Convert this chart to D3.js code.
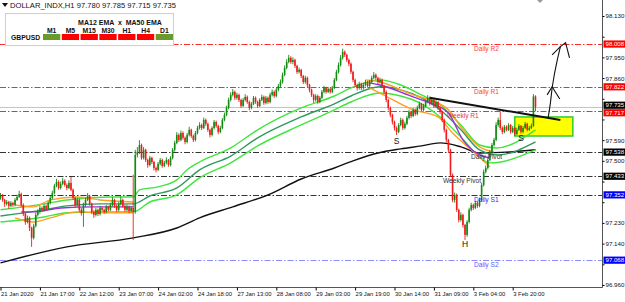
<!DOCTYPE html>
<html>
<head>
<meta charset="utf-8">
<script src="https://cdn.jsdelivr.net/npm/d3@7"></script>
<style>
  body { margin: 0; background: #fff; }
  svg { display: block; font-family: "Liberation Sans", Arial, sans-serif; }
</style>
</head>
<body>
<svg id="chart" width="625" height="302"></svg>
<script>
// ---- data ----
const firstOpen = 97.340;
const closes = [
  97.347,97.330,97.313,97.321,97.304,97.317,97.308,97.330,97.343,97.356,
  97.308,97.269,97.234,97.252,97.208,97.165,97.217,97.265,97.278,97.295,
  97.287,97.304,97.291,97.317,97.339,97.360,97.391,97.408,97.382,97.400,
  97.413,97.395,97.382,97.404,97.374,97.339,97.308,97.330,97.287,97.273,
  97.308,97.330,97.347,97.313,97.278,97.265,97.287,97.269,97.295,97.287,
  97.278,97.300,97.287,97.308,97.330,97.304,97.287,97.313,97.330,97.304,
  97.287,97.300,97.282,97.295,97.278,97.526,97.539,97.569,97.513,97.548,
  97.504,97.482,97.513,97.495,97.469,97.461,97.487,97.504,97.478,97.491,
  97.504,97.482,97.513,97.548,97.578,97.613,97.591,97.621,97.600,97.582,
  97.613,97.635,97.608,97.591,97.621,97.643,97.656,97.643,97.678,97.661,
  97.635,97.613,97.643,97.669,97.652,97.626,97.643,97.678,97.700,97.730,
  97.765,97.787,97.800,97.774,97.787,97.765,97.739,97.765,97.778,97.756,
  97.730,97.748,97.774,97.756,97.739,97.765,97.778,97.752,97.774,97.756,
  97.787,97.800,97.782,97.809,97.826,97.843,97.874,97.904,97.930,97.948,
  97.930,97.939,97.913,97.887,97.896,97.869,97.843,97.861,97.830,97.809,
  97.787,97.765,97.782,97.756,97.774,97.800,97.817,97.800,97.813,97.800,
  97.817,97.852,97.887,97.917,97.948,97.974,97.961,97.939,97.922,97.887,
  97.852,97.830,97.817,97.835,97.817,97.830,97.843,97.826,97.843,97.861,
  97.874,97.861,97.843,97.852,97.826,97.800,97.765,97.730,97.700,97.669,
  97.643,97.626,97.656,97.678,97.643,97.661,97.687,97.713,97.695,97.722,
  97.704,97.730,97.748,97.722,97.739,97.756,97.774,97.748,97.765,97.739,
  97.756,97.730,97.713,97.678,97.635,97.591,97.548,97.439,97.330,97.352,
  97.287,97.243,97.265,97.221,97.178,97.234,97.287,97.308,97.295,97.317,
  97.304,97.330,97.395,97.452,97.469,97.504,97.539,97.569,97.591,97.656,
  97.678,97.643,97.626,97.648,97.635,97.656,97.626,97.643,97.617,97.635,
  97.652,97.626,97.643,97.661,97.635,97.643,97.652,97.780,97.735
];
const highs = [
  97.360,97.356,97.335,97.330,97.326,97.325,97.322,97.338,97.352,97.370,
  97.362,97.315,97.276,97.262,97.258,97.214,97.226,97.274,97.290,97.306,
  97.302,97.312,97.310,97.325,97.347,97.370,97.400,97.422,97.415,97.410,
  97.426,97.420,97.402,97.415,97.430,97.380,97.345,97.340,97.336,97.295,
  97.318,97.340,97.360,97.352,97.318,97.285,97.295,97.292,97.304,97.300,
  97.292,97.308,97.305,97.318,97.342,97.335,97.310,97.322,97.345,97.336,
  97.310,97.310,97.306,97.304,97.440,97.548,97.560,97.590,97.575,97.560,
  97.553,97.510,97.522,97.518,97.500,97.475,97.495,97.512,97.510,97.500,
  97.515,97.508,97.520,97.556,97.588,97.625,97.620,97.632,97.628,97.606,
  97.622,97.648,97.640,97.614,97.630,97.652,97.668,97.662,97.688,97.684,
  97.666,97.640,97.650,97.678,97.675,97.657,97.652,97.686,97.710,97.740,
  97.775,97.798,97.812,97.806,97.796,97.792,97.770,97.774,97.790,97.784,
  97.762,97.756,97.782,97.780,97.762,97.772,97.788,97.784,97.782,97.780,
  97.796,97.810,97.806,97.818,97.835,97.854,97.884,97.915,97.942,97.961,
  97.955,97.950,97.944,97.918,97.905,97.900,97.874,97.870,97.866,97.835,
  97.814,97.792,97.790,97.788,97.782,97.808,97.826,97.822,97.822,97.818,
  97.826,97.860,97.896,97.928,97.960,97.988,97.980,97.966,97.945,97.928,
  97.892,97.858,97.836,97.844,97.840,97.840,97.852,97.848,97.852,97.870,
  97.886,97.880,97.866,97.862,97.858,97.830,97.806,97.770,97.736,97.705,
  97.675,97.650,97.664,97.688,97.684,97.670,97.696,97.722,97.718,97.730,
  97.728,97.740,97.758,97.752,97.748,97.766,97.786,97.780,97.774,97.770,
  97.764,97.760,97.736,97.718,97.684,97.640,97.596,97.552,97.445,97.362,
  97.358,97.292,97.276,97.270,97.226,97.242,97.296,97.318,97.314,97.326,
  97.322,97.340,97.404,97.462,97.480,97.512,97.548,97.578,97.600,97.668,
  97.688,97.713,97.650,97.656,97.654,97.664,97.660,97.652,97.648,97.644,
  97.660,97.656,97.652,97.670,97.666,97.652,97.662,97.790,97.785
];
const lows = [
  97.331,97.322,97.300,97.305,97.291,97.298,97.300,97.302,97.326,97.338,
  97.300,97.260,97.222,97.228,97.195,97.126,97.158,97.210,97.258,97.270,
  97.278,97.280,97.284,97.286,97.310,97.332,97.354,97.385,97.374,97.376,
  97.394,97.388,97.372,97.377,97.368,97.330,97.298,97.300,97.278,97.262,
  97.213,97.300,97.325,97.305,97.268,97.252,97.258,97.260,97.262,97.280,
  97.270,97.272,97.280,97.282,97.302,97.296,97.278,97.280,97.306,97.296,
  97.278,97.280,97.272,97.276,97.156,97.270,97.515,97.530,97.505,97.506,
  97.495,97.470,97.476,97.486,97.458,97.450,97.455,97.480,97.470,97.472,
  97.485,97.474,97.476,97.506,97.540,97.572,97.582,97.585,97.592,97.572,
  97.576,97.606,97.600,97.582,97.585,97.615,97.636,97.634,97.638,97.652,
  97.626,97.602,97.606,97.636,97.644,97.616,97.620,97.637,97.672,97.694,
  97.724,97.758,97.780,97.765,97.766,97.756,97.730,97.734,97.758,97.748,
  97.720,97.724,97.742,97.748,97.730,97.734,97.760,97.744,97.746,97.748,
  97.750,97.780,97.774,97.776,97.802,97.820,97.836,97.868,97.898,97.924,
  97.922,97.920,97.904,97.878,97.880,97.860,97.834,97.836,97.820,97.798,
  97.778,97.752,97.758,97.748,97.750,97.768,97.794,97.792,97.795,97.792,
  97.794,97.812,97.846,97.880,97.910,97.940,97.952,97.930,97.912,97.878,
  97.842,97.820,97.806,97.810,97.808,97.810,97.824,97.818,97.820,97.838,
  97.855,97.852,97.834,97.836,97.816,97.790,97.755,97.720,97.690,97.658,
  97.632,97.612,97.620,97.650,97.634,97.636,97.655,97.680,97.686,97.690,
  97.696,97.698,97.724,97.714,97.716,97.732,97.750,97.740,97.742,97.730,
  97.732,97.722,97.704,97.668,97.624,97.580,97.535,97.430,97.320,97.318,
  97.278,97.232,97.236,97.210,97.156,97.170,97.228,97.280,97.286,97.290,
  97.296,97.298,97.324,97.388,97.445,97.462,97.498,97.532,97.562,97.585,
  97.648,97.634,97.616,97.620,97.628,97.630,97.618,97.620,97.608,97.612,
  97.630,97.618,97.620,97.638,97.628,97.630,97.638,97.648,97.715
];

// moving averages as [bar index, price]
const ma200 = [[0,97.056],[32,97.126],[64,97.165],[85,97.208],[96,97.252],[112,97.300],
  [129,97.352],[145,97.421],[161,97.469],[170,97.500],[182,97.534],[193,97.552],
  [203,97.565],[212,97.578],[222,97.561],[231,97.534],[246,97.539],[258,97.548]];
const ma50Upper = [[0,97.287],[21,97.313],[32,97.330],[53,97.343],[64,97.343],[67,97.374],
  [76,97.387],[85,97.417],[90,97.461],[96,97.495],[111,97.556],[124,97.635],[145,97.730],
  [161,97.782],[169,97.817],[183,97.852],[193,97.830],[203,97.787],[212,97.743],
  [222,97.656],[231,97.569],[239,97.556],[258,97.635]];
const ma50 = [[0,97.260],[21,97.287],[32,97.304],[48,97.313],[64,97.313],[72,97.347],
  [85,97.382],[96,97.461],[111,97.521],[124,97.600],[145,97.691],[161,97.748],
  [169,97.782],[183,97.822],[193,97.809],[203,97.774],[212,97.722],[222,97.635],
  [231,97.548],[240,97.526],[258,97.582]];
const ma50Lower = [[0,97.234],[21,97.256],[32,97.274],[53,97.278],[64,97.278],[72,97.321],
  [85,97.352],[96,97.426],[111,97.491],[124,97.565],[145,97.656],[161,97.722],
  [169,97.756],[183,97.795],[193,97.782],[203,97.748],[212,97.691],[222,97.604],
  [231,97.517],[236,97.491],[258,97.548]];
const ma12Upper = [
  [[7,97.308],[16,97.300],[24,97.330],[37,97.343],[48,97.330],[64,97.321]],
  [[176,97.852],[183,97.843],[199,97.787],[207,97.765],[216,97.722],[223,97.635],[231,97.561],[238,97.539]]
];
const ma12 = [
  [[10,97.278],[16,97.278],[29,97.295],[45,97.300],[64,97.300]],
  [[178,97.839],[183,97.830],[199,97.778],[207,97.752],[216,97.708],[223,97.591],[231,97.526],[236,97.513]]
];
const ma12Lower = [
  [[7,97.252],[16,97.234],[24,97.252],[37,97.278],[48,97.274],[64,97.274]],
  [[178,97.817],[183,97.795],[199,97.722],[211,97.691],[218,97.621],[227,97.548],[236,97.474]]
];

// pivot levels
const levelNames = ["Daily R2", "Daily R1", "Weekly R1", "Daily Pivot", "Weekly Pivot", "Daily S1", "Daily S2"];
const levelPrices = [98.008, 97.822, 97.717, 97.538, 97.433, 97.352, 97.068];
const lastPrice = 97.735;

const timeLabels = ["21 Jan 2020", "21 Jan 17:00", "22 Jan 12:00", "23 Jan 07:00", "24 Jan 02:00",
  "24 Jan 18:00", "27 Jan 13:00", "28 Jan 08:00", "29 Jan 03:00", "29 Jan 19:00",
  "30 Jan 14:00", "31 Jan 09:00", "3 Feb 04:00", "3 Feb 20:00"];
const priceTicks = [98.130, 98.040, 97.950, 97.860, 97.770, 97.680, 97.590, 97.500,
  97.410, 97.320, 97.230, 97.140, 97.050, 96.960];

// hand drawn objects, [bar index, price]
const trendLine = [[207, 97.774], [270, 97.678]];
const yellowBox = [[248, 97.691], [276, 97.608]];
const arrowPath = [[264.1, 97.687], [265.2, 97.752], [266, 97.817], [267.2, 97.882], [268.5, 97.939],
  [270, 97.997], [272.5, 98.014], [273.4, 97.983], [274.4, 97.948]];
const arrowHead1 = [[263.6, 97.787], [266, 97.822], [269.7, 97.769]];
const arrowHead2 = [[266, 97.961], [270, 97.997]];
const patternMarks = [["S", 191, 97.587], ["H", 224, 97.139], ["S", 251, 97.600]];

// legend (MA cross indicator)
const tfNames = ["M1", "M5", "M15", "M30", "H1", "H4", "D1"];
const tfUp = [true, false, false, false, false, false, true];

// ---- drawing ----
const svg = d3.select("#chart");
const plotRight = 602.5, plotBottom = 287.5;

const x = d3.scaleLinear().domain([0, 19]).range([0.5, 39.9]);
const y = d3.scaleLinear().domain([96.960, 98.130]).range([285, 16]);

const plot = svg.append("g");

// level lines
const levelColors = ["#ff2a2a", "#ff2a2a", "#ff2a2a", "#333333", "#333333", "#1a1aff", "#8c8cff"];
levelPrices.forEach((p, i) => {
  plot.append("line")
    .attr("x1", 0).attr("x2", plotRight)
    .attr("y1", Math.round(y(p)) + 0.5).attr("y2", Math.round(y(p)) + 0.5)
    .attr("stroke", levelColors[i]).attr("stroke-width", 1)
    .attr("stroke-dasharray", "6,2,1.5,2");
});
// bid line
plot.append("line")
  .attr("x1", 0).attr("x2", plotRight)
  .attr("y1", Math.round(y(lastPrice)) + 0.5).attr("y2", Math.round(y(lastPrice)) + 0.5)
  .attr("stroke", "#c4c4c4");

// yellow box
plot.append("rect")
  .attr("x", x(yellowBox[0][0])).attr("y", y(yellowBox[0][1]))
  .attr("width", x(yellowBox[1][0]) - x(yellowBox[0][0]))
  .attr("height", y(yellowBox[1][1]) - y(yellowBox[0][1]))
  .attr("fill", "#ffff00").attr("stroke", "#2ecc2e").attr("stroke-width", 1.5);

// moving averages
const line = d3.line().x(d => x(d[0])).y(d => y(d[1])).curve(d3.curveMonotoneX);
function drawLine(data, color, width) {
  plot.append("path").attr("d", line(data)).attr("fill", "none")
    .attr("stroke", color).attr("stroke-width", width);
}
drawLine(ma200, "#111111", 1.4);
drawLine(ma50Upper, "#3ee63e", 1.4);
drawLine(ma50, "#2e9a5e", 1.4);
drawLine(ma50Lower, "#3ee63e", 1.4);
ma12Upper.forEach(s => drawLine(s, "#ffa020", 1.4));
ma12Lower.forEach(s => drawLine(s, "#ffa020", 1.4));
ma12.forEach(s => drawLine(s, "#9a30d8", 1.4));

// candles
const candles = closes.map((c, i) => ({
  i: i, o: i === 0 ? firstOpen : closes[i - 1], c: c, h: highs[i], l: lows[i]
}));
const cg = plot.append("g");
cg.selectAll("line").data(candles).join("line")
  .attr("x1", d => x(d.i)).attr("x2", d => x(d.i))
  .attr("y1", d => y(d.h)).attr("y2", d => y(d.l))
  .attr("stroke", d => d.c >= d.o ? "#138a13" : "#f21a1a").attr("stroke-width", 0.9);
cg.selectAll("rect").data(candles).join("rect")
  .attr("x", d => x(d.i) - 0.8).attr("width", 1.6)
  .attr("y", d => y(Math.max(d.o, d.c)))
  .attr("height", d => Math.max(0.8, Math.abs(y(d.o) - y(d.c))))
  .attr("fill", d => d.c >= d.o ? "#138a13" : "#f21a1a");

// trend line and arrow
plot.append("line")
  .attr("x1", x(trendLine[0][0])).attr("y1", y(trendLine[0][1]))
  .attr("x2", x(trendLine[1][0])).attr("y2", y(trendLine[1][1]))
  .attr("stroke", "#111").attr("stroke-width", 2);
const pen = d3.line().x(d => x(d[0])).y(d => y(d[1]));
[arrowPath, arrowHead1, arrowHead2].forEach(a => {
  plot.append("path").attr("d", pen(a)).attr("fill", "none")
    .attr("stroke", "#111").attr("stroke-width", 1.1);
});

// level labels
const levelLabelX = [474, 474, 447, 471, 443, 474, 474];
const levelTextColors = ["#ff3b3b", "#ff3b3b", "#e8305a", "#333333", "#333333", "#2a2aff", "#5a5aff"];
levelNames.forEach((n, i) => {
  plot.append("text").attr("x", levelLabelX[i]).attr("y", y(levelPrices[i]) + 7)
    .attr("font-size", 6.6).attr("fill", levelTextColors[i]).text(n);
});

// S / H marks
patternMarks.forEach(m => {
  plot.append("text").attr("x", x(m[1])).attr("y", y(m[2]) + 3)
    .attr("text-anchor", "middle").attr("font-size", 8.5).attr("fill", "#111").text(m[0]);
});

// price tags on the axis (drawn first so we know which tick labels they cover)
const tagColors = ["#ff0000", "#ff0000", "#ff0000", "#000000", "#000000", "#0000ff", "#0000ff"];
const tags = levelPrices.map((p, i) => ({ p: p, color: tagColors[i], shift: 0 }));
tags.push({ p: lastPrice, color: "#000000", shift: -1.6 });
tags[2].shift = 1.8; // weekly R1 tag sits just under the last price tag

// axes
const yAxis = d3.axisRight(y).tickValues(priceTicks).tickFormat(d3.format(".3f")).tickSize(2).tickPadding(1);
const ya = svg.append("g").attr("transform", `translate(${plotRight},0)`).call(yAxis);
ya.select(".domain").attr("d", `M0,0V${plotBottom}`).attr("stroke", "#555");
ya.selectAll("text").attr("font-size", 6.2).attr("fill", "#111");
ya.selectAll(".tick text")
  .filter(d => tags.some(t => Math.abs(y(t.p) + t.shift - y(d)) < 7.5))
  .remove();

const xAxis = d3.axisBottom(x).tickValues(timeLabels.map((t, k) => k * 19))
  .tickFormat((d, k) => timeLabels[k]).tickSize(3).tickPadding(1);
const xa = svg.append("g").attr("transform", `translate(0,${plotBottom})`).call(xAxis);
xa.select(".domain").attr("d", `M0,0H${plotRight}`).attr("stroke", "#555");
xa.selectAll("text").attr("font-size", 5.9).attr("fill", "#111").attr("text-anchor", "start").attr("dx", 0);

tags.forEach(t => {
  const cy = y(t.p) + t.shift;
  svg.append("rect").attr("x", plotRight + 1).attr("y", cy - 3.6).attr("width", 22).attr("height", 7.2).attr("fill", t.color);
  svg.append("text").attr("x", plotRight + 3).attr("y", cy + 2.2).attr("font-size", 6.1)
    .attr("fill", "#fff").text(t.p.toFixed(3));
});

// chart-shift marker
svg.append("path").attr("d", "M537,0L543,0L540,3Z").attr("fill", "#9a9a9a");

// header
svg.append("path").attr("d", "M2,3L8,3L5,7Z").attr("fill", "#111");
svg.append("text").attr("x", 10).attr("y", 8).attr("font-size", 7.6).attr("fill", "#111")
  .text(`DOLLAR_INDX,H1  ${closes[closes.length - 2].toFixed(3)} ${highs[highs.length - 1].toFixed(3)} ${lows[lows.length - 1].toFixed(3)} ${lastPrice.toFixed(3)}`);

// legend box
const lg = svg.append("g");
lg.append("rect").attr("x", 5.5).attr("y", 13.5).attr("width", 168).attr("height", 32)
  .attr("fill", "#fff").attr("stroke", "#cfcfcf");
lg.append("text").attr("x", 120).attr("y", 25).attr("text-anchor", "middle")
  .attr("font-size", 7).attr("font-weight", "bold").attr("fill", "#111")
  .attr("xml:space", "preserve").text("MA12 EMA  x  MA50 EMA");
lg.append("text").attr("x", 11).attr("y", 39.5).attr("font-size", 6.8).attr("font-weight", "bold")
  .attr("fill", "#111").text("GBPUSD");
const tfX = d3.scaleBand().domain(tfNames).range([43, 173]).paddingInner(0.08);
tfNames.forEach((n, i) => {
  lg.append("text").attr("x", tfX(n) + tfX.bandwidth() / 2).attr("y", 32.5).attr("text-anchor", "middle")
    .attr("font-size", 6.8).attr("font-weight", "bold").attr("fill", "#111").text(n);
  lg.append("rect").attr("x", tfX(n)).attr("y", 34).attr("width", tfX.bandwidth()).attr("height", 6)
    .attr("fill", tfUp[i] ? "#6b9a2a" : "#ff0000");
});
</script>
</body>
</html>
